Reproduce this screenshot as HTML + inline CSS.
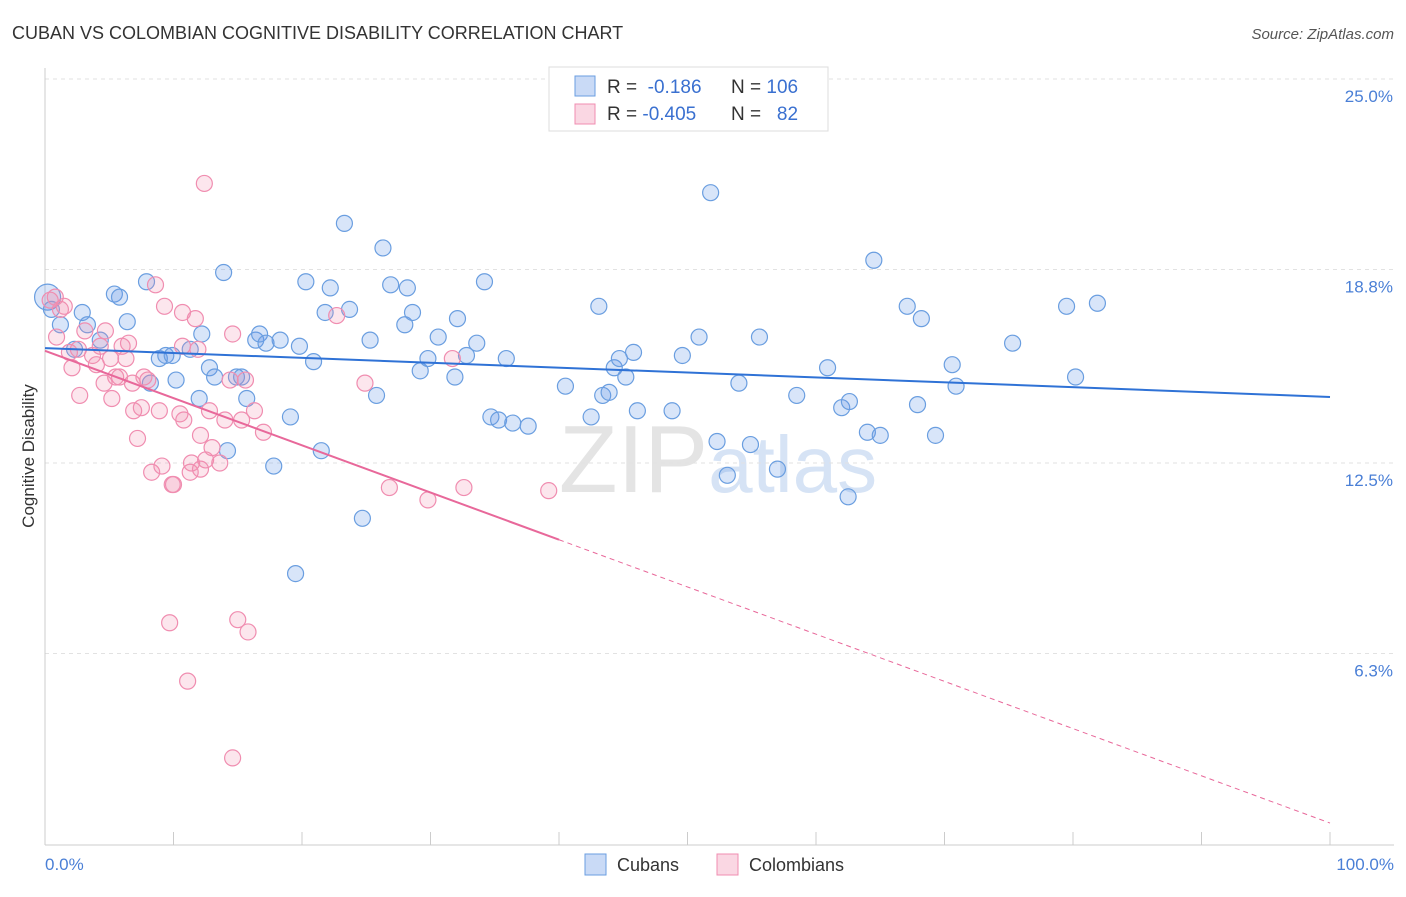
<!DOCTYPE html>
<html><head><meta charset="utf-8"><style>
body{margin:0;background:#fff;font-family:"Liberation Sans",sans-serif;}
svg text{font-family:"Liberation Sans",sans-serif;}
</style></head><body>
<svg id="chart" width="1406" height="892" viewBox="0 0 1406 892">
<text x="12" y="39" font-size="18" fill="#333">CUBAN VS COLOMBIAN COGNITIVE DISABILITY CORRELATION CHART</text>
<text x="1394" y="39" font-size="15" fill="#555" font-style="italic" text-anchor="end">Source: ZipAtlas.com</text>
<text x="718" y="492" font-size="96" fill="#e4e4e4" text-anchor="middle" font-family="Liberation Serif">ZIP<tspan fill="#d6e3f5" font-family="Liberation Sans" font-size="80">atlas</tspan></text>
<g id="grid"></g>
<line x1="45" y1="68" x2="45" y2="845" stroke="#ccc"/>
<line x1="45" y1="845" x2="1394" y2="845" stroke="#ccc"/>
<text x="34" y="456" font-size="17" fill="#333" text-anchor="middle" transform="rotate(-90 34 456)">Cognitive Disability</text>
<text x="45" y="870" font-size="17" fill="#4a7fd6">0.0%</text>
<text x="1394" y="870" font-size="17" fill="#4a7fd6" text-anchor="end">100.0%</text>
<g id="pts"></g>
<g id="trends"></g>
<g>
<rect x="549" y="67" width="279" height="64" fill="#fff" stroke="#ddd"/>
<rect x="575" y="76" width="20" height="20" fill="rgba(100,150,230,0.35)" stroke="#6a9ee0"/>
<rect x="575" y="104" width="20" height="20" fill="rgba(240,140,175,0.35)" stroke="#f08db0"/>
<text x="607" y="93" font-size="19" fill="#333">R = <tspan fill="#3a70d0">&#160;-0.186</tspan><tspan x="731">N = </tspan><tspan fill="#3a70d0">106</tspan></text>
<text x="607" y="120" font-size="19" fill="#333">R = <tspan fill="#3a70d0">-0.405</tspan><tspan x="731">N = </tspan><tspan fill="#3a70d0">&#160;&#160;82</tspan></text>
</g>
<g>
<rect x="585" y="854" width="21" height="21" fill="rgba(100,150,230,0.35)" stroke="#6a9ee0"/>
<text x="617" y="871" font-size="18" fill="#333">Cubans</text>
<rect x="717" y="854" width="21" height="21" fill="rgba(240,140,175,0.35)" stroke="#f08db0"/>
<text x="749" y="871" font-size="18" fill="#333">Colombians</text>
</g>
</svg>
<script>
const yTicks=[25.0,18.8,12.5,6.3];
const yTickLabels=["25.0%","18.8%","12.5%","6.3%"];
const cubanX=[0.2,0.5,1.2,2.3,2.9,3.3,4.3,5.4,5.8,6.4,7.9,8.2,8.9,9.4,9.9,10.2,11.3,12.2,12.0,12.8,13.2,13.9,14.2,14.9,15.3,15.7,16.4,16.7,17.2,18.3,17.8,19.1,19.5,19.8,20.3,20.9,21.5,21.8,22.2,23.3,23.7,24.7,25.3,25.8,26.3,26.9,28.0,28.2,28.6,29.2,29.8,30.6,31.9,32.1,32.8,33.6,34.2,34.7,35.3,35.9,36.4,37.6,40.5,42.5,43.1,43.4,44.3,43.9,44.7,45.2,45.8,46.1,48.8,49.6,50.9,51.8,52.3,53.1,54.0,54.9,55.6,57.0,58.5,60.9,62.0,62.5,62.6,64.0,64.5,65.0,67.1,67.9,68.2,69.3,70.6,70.9,75.3,79.5,80.2,81.9];
const cubanY=[17.9,17.5,17.0,16.2,17.4,17.0,16.5,18.0,17.9,17.1,18.4,15.1,15.9,16.0,16.0,15.2,16.2,16.7,14.6,15.6,15.3,18.7,12.9,15.3,15.3,14.6,16.5,16.7,16.4,16.5,12.4,14.0,8.9,16.3,18.4,15.8,12.9,17.4,18.2,20.3,17.5,10.7,16.5,14.7,19.5,18.3,17.0,18.2,17.4,15.5,15.9,16.6,15.3,17.2,16.0,16.4,18.4,14.0,13.9,15.9,13.8,13.7,15.0,14.0,17.6,14.7,15.6,14.8,15.9,15.3,16.1,14.2,14.2,16.0,16.6,21.3,13.2,12.1,15.1,13.1,16.6,12.3,14.7,15.6,14.3,11.4,14.5,13.5,19.1,13.4,17.6,14.4,17.2,13.4,15.7,15.0,16.4,17.6,15.3,17.7];
const colX=[0.4,0.8,1.2,1.5,0.9,1.9,2.1,2.6,2.7,3.1,3.7,4.0,4.3,4.6,4.7,5.1,5.2,5.5,5.8,6.0,6.3,6.5,6.8,6.9,7.2,7.5,7.7,8.0,8.3,8.6,8.9,9.1,9.3,9.7,9.9,10.0,10.5,10.7,10.7,10.8,11.1,11.3,11.4,11.7,11.9,12.1,12.4,12.5,12.8,13.0,13.6,14.0,14.4,14.6,14.6,15.0,15.3,15.6,15.8,16.3,17.0,22.7,24.9,26.8,29.8,31.7,32.6,39.2,12.1];
const colY=[17.8,17.9,17.5,17.6,16.6,16.1,15.6,16.2,14.7,16.8,16.0,15.7,16.3,15.1,16.8,15.9,14.6,15.3,15.3,16.3,15.9,16.4,15.1,14.2,13.3,14.3,15.3,15.2,12.2,18.3,14.2,12.4,17.6,7.3,11.8,11.8,14.1,17.4,16.3,13.9,5.4,12.2,12.5,17.2,16.2,13.4,21.6,12.6,14.2,13.0,12.5,13.9,15.2,16.7,2.9,7.4,13.9,15.2,7.0,14.2,13.5,17.3,15.1,11.7,11.3,15.9,11.7,11.6,12.3];
const cubanTrend=[16.24,14.65];
const colTrend=[16.15,0.78];
const colSolidEnd=40;
const sx=v=>45+v*12.85, sy=v=>847-v*30.72;
const NS="http://www.w3.org/2000/svg";
const grid=document.getElementById('grid');
yTicks.forEach((t,i)=>{
 const l=document.createElementNS(NS,'line');
 l.setAttribute('x1',45);l.setAttribute('x2',1394);l.setAttribute('y1',sy(t));l.setAttribute('y2',sy(t));
 l.setAttribute('stroke','#e2e2e2');l.setAttribute('stroke-dasharray','4,4');
 
 
 grid.appendChild(l);
 const tx=document.createElementNS(NS,'text');
 tx.setAttribute('x',1393);tx.setAttribute('y',sy(t)+23);tx.setAttribute('text-anchor','end');
 tx.setAttribute('font-size','17');tx.setAttribute('fill','#4a7fd6');tx.textContent=yTickLabels[i];
 
 
 grid.appendChild(tx);
});
for(let i=0;i<=10;i++){
 const l=document.createElementNS(NS,'line');
 l.setAttribute('x1',sx(i*10));l.setAttribute('x2',sx(i*10));l.setAttribute('y1',832);l.setAttribute('y2',845);
 l.setAttribute('stroke','#ccc');
 
 
 grid.appendChild(l);
}
const pts=document.getElementById('pts');
function dot(x,y,f,s,name,r){
 const c=document.createElementNS(NS,'circle');
 c.setAttribute('cx',sx(x));c.setAttribute('cy',sy(y));c.setAttribute('r',r);
 c.setAttribute('fill',f);c.setAttribute('stroke',s);c.setAttribute('stroke-width','1.2');
 
 
 pts.appendChild(c);
}
cubanX.forEach((x,i)=>dot(x,cubanY[i],'rgba(100,150,230,0.25)','#6a9ee0','cuban-point',i===0?13:8));
colX.forEach((x,i)=>dot(x,colY[i],'rgba(240,140,175,0.22)','#f08db0','colombian-point',8));
const tr=document.getElementById('trends');
function line(x1,y1,x2,y2,col,w,dash,name){
 const l=document.createElementNS(NS,'line');
 l.setAttribute('x1',sx(x1));l.setAttribute('y1',sy(y1));l.setAttribute('x2',sx(x2));l.setAttribute('y2',sy(y2));
 l.setAttribute('stroke',col);l.setAttribute('stroke-width',w);if(dash)l.setAttribute('stroke-dasharray',dash);
 
 
 tr.appendChild(l);
}
line(0,cubanTrend[0],100,cubanTrend[1],'#2f72d6',2,null,'cuban-trend-line');
const cy=x=>colTrend[0]+(colTrend[1]-colTrend[0])*x/100;
line(0,cy(0),colSolidEnd,cy(colSolidEnd),'#e8689a',2,null,'colombian-trend-line');
line(colSolidEnd,cy(colSolidEnd),100,cy(100),'#e8689a',1,'5,4','colombian-trend-extension');
</script>
</body></html>
